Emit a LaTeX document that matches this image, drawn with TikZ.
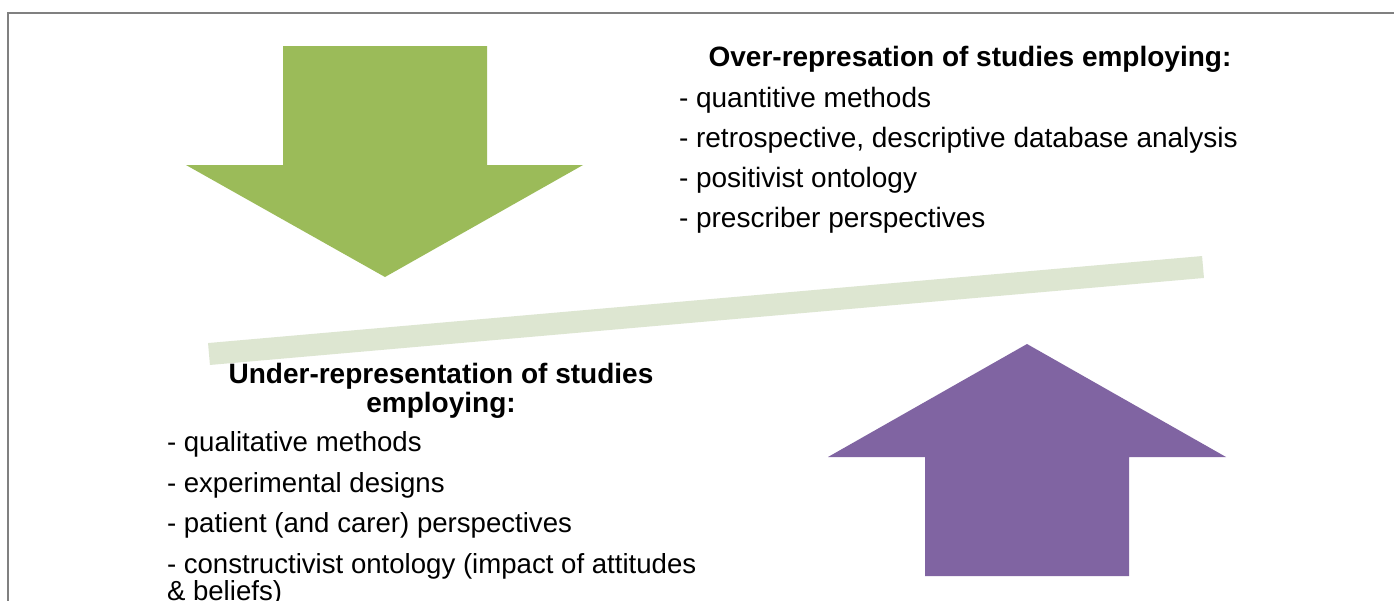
\documentclass[tikz,border=0pt]{standalone}
\usepackage{fontspec}
\setmainfont{Liberation Sans}
\definecolor{arrgreen}{HTML}{9BBB59}
\definecolor{arrpurple}{HTML}{8064A2}
\definecolor{barcol}{HTML}{DDE6D1}
\definecolor{framecol}{HTML}{808080}
\begin{document}
\begin{tikzpicture}[x=1pt,y=-1pt,
  txt/.style={inner sep=0pt,outer sep=0pt,anchor=base west,font=\fontsize{28}{29}\selectfont},
  txtb/.style={inner sep=0pt,outer sep=0pt,anchor=base west,font=\fontsize{27.6}{29}\selectfont},
  ttl/.style={inner sep=0pt,outer sep=0pt,anchor=base,font=\fontsize{28}{29}\selectfont\bfseries}]
\useasboundingbox (0,0) rectangle (1394,600);
\fill[white] (0,0) rectangle (1394,600);
% frame
\draw[framecol,line width=2pt] (8,601) -- (8,13) -- (1395,13);
% bar
\draw[barcol,line width=22pt,line cap=butt] (209,354) -- (1203,267);
% green down arrow
\fill[arrgreen] (283,46) -- (487,46) -- (487,165) -- (583,165) -- (385,277) -- (186,165) -- (283,165) -- cycle;
% purple up arrow
\fill[arrpurple] (1027,344) -- (1226,457) -- (1129,457) -- (1129,576) -- (925,576) -- (925,457) -- (828,457) -- cycle;
% top text
\node[ttl] (ot) at (970,66) {Over-represation of studies employing:};
\node[txt] (o1) at (679,107) {- quantitive methods};
\node[txt] (o2) at (679,147) {- retrospective, descriptive database analysis};
\node[txt] (o3) at (679,187) {- positivist ontology};
\node[txt] (o4) at (679,227) {- prescriber perspectives};
% bottom text
\node[ttl] (ut1) at (441,383) {Under-representation of studies};
\node[ttl] (ut2) at (441,412) {employing:};
\node[txtb] (u1) at (167,451) {- qualitative methods};
\node[txtb] (u2) at (167,492) {- experimental designs};
\node[txtb] (u3) at (167,532) {- patient (and carer) perspectives};
\node[txtb] (u4) at (167,573) {- constructivist ontology (impact of attitudes};
\node[txtb] (u5) at (167,600) {\& beliefs)};
\end{tikzpicture}
\end{document}
